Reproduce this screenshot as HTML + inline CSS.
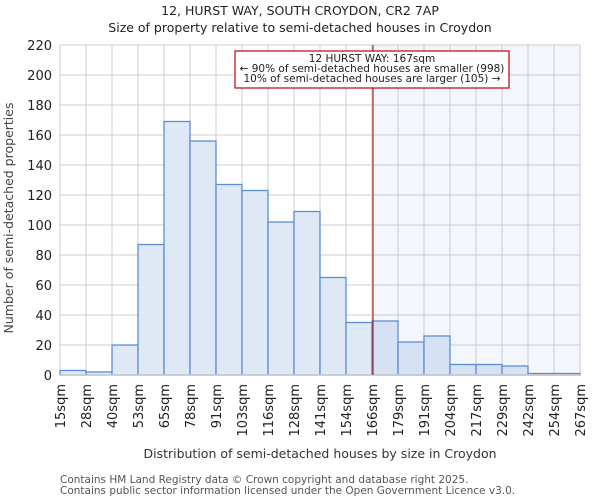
<!DOCTYPE html>
<html><head><meta charset="utf-8"><style>
body{margin:0;background:#fff;font-family:"DejaVu Sans","Liberation Sans",sans-serif;}
svg text{font-family:"DejaVu Sans","Liberation Sans",sans-serif;fill:#222;}
</style></head><body>
<svg id="chart" width="600" height="500" xmlns="http://www.w3.org/2000/svg">
<text x="300" y="15" font-size="12.5" text-anchor="middle">12, HURST WAY, SOUTH CROYDON, CR2 7AP</text>
<text x="300" y="32" font-size="12.5" text-anchor="middle">Size of property relative to semi-detached houses in Croydon</text>
<g id="plot"></g>
<text x="320" y="458" font-size="12.5" text-anchor="middle" style="fill:#333">Distribution of semi-detached houses by size in Croydon</text>
<text transform="translate(13,218) rotate(-90)" font-size="12.5" text-anchor="middle" style="fill:#444">Number of semi-detached properties</text>
<text x="60" y="483" font-size="10.5" style="fill:#555">Contains HM Land Registry data © Crown copyright and database right 2025.</text>
<text x="60" y="494" font-size="10.5" style="fill:#555">Contains public sector information licensed under the Open Government Licence v3.0.</text>
</svg>
<script>
const binLabels=["15sqm","28sqm","40sqm","53sqm","65sqm","78sqm","91sqm","103sqm","116sqm","128sqm","141sqm","154sqm","166sqm","179sqm","191sqm","204sqm","217sqm","229sqm","242sqm","254sqm","267sqm"];
const counts=[3,2,20,87,169,156,127,123,102,109,65,35,36,22,26,7,7,6,1,1];
const yTicks=[0,20,40,60,80,100,120,140,160,180,200,220];
const markerBin=12;
const NS="http://www.w3.org/2000/svg";
const L=60,R=580,T=45,B=375,yMax=220;
const bw=(R-L)/counts.length;
const x=i=>L+i*bw, y=v=>B-(v/yMax)*(B-T);
const g=document.getElementById('plot');
function mk(t,a){const e=document.createElementNS(NS,t);for(const k in a)e.setAttribute(k,a[k]);g.appendChild(e);return e;}
let e=mk('rect',{x:x(markerBin),y:T,width:R-x(markerBin),height:B-T,fill:'#f3f6fd'});


yTicks.forEach(v=>{let l=mk('line',{x1:L,x2:R,y1:y(v),y2:y(v),stroke:'#ccc'});


let t=mk('text',{x:L-8,y:y(v)+5,'font-size':13,'text-anchor':'end'});t.textContent=v;

});
binLabels.forEach((s,i)=>{let l=mk('line',{x1:x(i),x2:x(i),y1:T,y2:B,stroke:'#ccc'});


let t=mk('text',{transform:`translate(${x(i)+5},384) rotate(-90)`,'font-size':13,'text-anchor':'end'});t.textContent=s;

});
counts.forEach((v,i)=>{let r=mk('rect',{x:x(i),y:y(v),width:bw,height:B-y(v),fill:i>=markerBin?'#d6e1f3':'#dfe8f5',stroke:'#5a8fd6','stroke-width':1.3});

});
let ax=mk('line',{x1:L,x2:R,y1:B,y2:B,stroke:'#ccc','stroke-width':1.5});


let ml=mk('line',{x1:x(markerBin)+1,x2:x(markerBin)+1,y1:T,y2:B,stroke:'#b00000','stroke-width':1});


let bx=mk('rect',{x:235,y:51,width:274,height:37,fill:'#fff',stroke:'#c00000','stroke-width':1.2});


["12 HURST WAY: 167sqm","← 90% of semi-detached houses are smaller (998)","10% of semi-detached houses are larger (105) →"].forEach((s,k)=>{
let t=mk('text',{x:372,y:62+k*10,'font-size':10.5,'text-anchor':'middle'});t.textContent=s;

});
</script>
</body></html>
